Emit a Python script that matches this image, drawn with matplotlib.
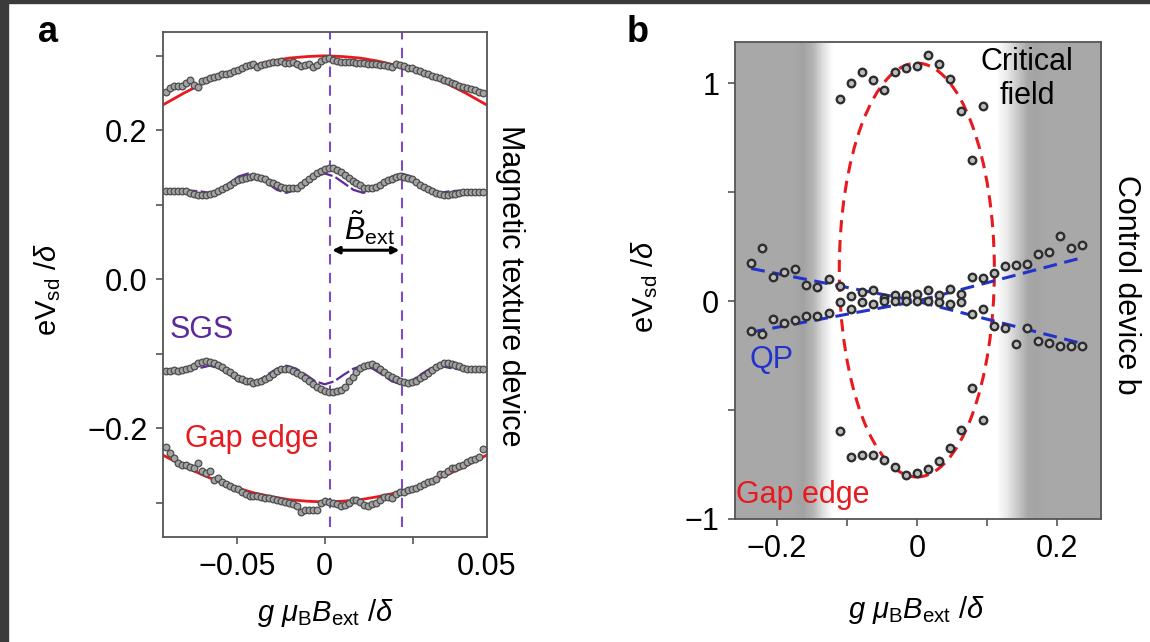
import numpy as np
import matplotlib
matplotlib.use("Agg")
import matplotlib.pyplot as plt
from matplotlib.colors import LinearSegmentedColormap
from matplotlib.patches import Ellipse, Rectangle

plt.rcParams['font.family'] = ['Liberation Sans', 'DejaVu Sans']
plt.rcParams['mathtext.fontset'] = 'custom'
plt.rcParams['mathtext.rm'] = 'Liberation Sans'
plt.rcParams['mathtext.it'] = 'Liberation Sans:italic'
plt.rcParams['mathtext.bf'] = 'Liberation Sans:bold'

# ---- panel a: magnetic texture device ----
field_a = np.linspace(-0.09, 0.09, 81)

gap_top_a = [0.251, 0.257, 0.259, 0.260, 0.260, 0.263, 0.268, 0.261, 0.258, 0.266,
             0.268, 0.270, 0.272, 0.273, 0.275, 0.276, 0.277, 0.279, 0.281, 0.283,
             0.286, 0.288, 0.289, 0.285, 0.287, 0.289, 0.290, 0.292, 0.292, 0.293,
             0.291, 0.291, 0.292, 0.289, 0.286, 0.287, 0.289, 0.285, 0.287, 0.293,
             0.296, 0.297, 0.294, 0.293, 0.292, 0.292, 0.292, 0.292, 0.291, 0.291,
             0.290, 0.289, 0.289, 0.289, 0.288, 0.288, 0.286, 0.285, 0.289, 0.287,
             0.286, 0.284, 0.283, 0.281, 0.279, 0.277, 0.275, 0.273, 0.271, 0.270,
             0.268, 0.266, 0.264, 0.262, 0.260, 0.258, 0.257, 0.255, 0.254, 0.252,
             0.250]

sgs_top_a = [0.119, 0.119, 0.119, 0.119, 0.119, 0.118, 0.116, 0.114, 0.113, 0.113,
             0.113, 0.114, 0.116, 0.118, 0.121, 0.124, 0.127, 0.130, 0.133, 0.135,
             0.136, 0.137, 0.138, 0.137, 0.136, 0.134, 0.131, 0.129, 0.126, 0.124,
             0.123, 0.122, 0.122, 0.123, 0.127, 0.130, 0.134, 0.139, 0.143, 0.146,
             0.148, 0.150, 0.149, 0.147, 0.144, 0.140, 0.136, 0.132, 0.129, 0.126,
             0.123, 0.122, 0.122, 0.124, 0.127, 0.130, 0.133, 0.135, 0.137, 0.138,
             0.137, 0.136, 0.134, 0.131, 0.127, 0.124, 0.121, 0.119, 0.116, 0.114,
             0.113, 0.113, 0.114, 0.115, 0.116, 0.117, 0.117, 0.117, 0.117, 0.117,
             0.117]

sgs_bot_a = [-0.123, -0.123, -0.122, -0.123, -0.122, -0.121, -0.119, -0.116, -0.112, -0.111,
             -0.110, -0.111, -0.113, -0.115, -0.118, -0.122, -0.125, -0.129, -0.132, -0.134,
             -0.136, -0.137, -0.139, -0.138, -0.137, -0.134, -0.131, -0.127, -0.123, -0.121,
             -0.120, -0.121, -0.123, -0.126, -0.129, -0.133, -0.136, -0.140, -0.144, -0.148,
             -0.150, -0.151, -0.151, -0.150, -0.149, -0.144, -0.137, -0.131, -0.124, -0.119,
             -0.116, -0.115, -0.114, -0.117, -0.120, -0.124, -0.128, -0.131, -0.134, -0.136,
             -0.138, -0.139, -0.138, -0.136, -0.133, -0.130, -0.126, -0.122, -0.118, -0.115,
             -0.113, -0.113, -0.114, -0.115, -0.117, -0.119, -0.121, -0.121, -0.121, -0.121,
             -0.121]

gap_bot_a = [-0.225, -0.233, -0.240, -0.247, -0.249, -0.250, -0.252, -0.253, -0.247, -0.258,
             -0.260, -0.257, -0.270, -0.267, -0.272, -0.275, -0.278, -0.280, -0.282, -0.285,
             -0.288, -0.291, -0.291, -0.291, -0.293, -0.294, -0.294, -0.295, -0.297, -0.298,
             -0.299, -0.301, -0.302, -0.305, -0.313, -0.310, -0.310, -0.310, -0.310, -0.300,
             -0.298, -0.299, -0.300, -0.302, -0.305, -0.303, -0.300, -0.297, -0.297, -0.299,
             -0.303, -0.304, -0.302, -0.300, -0.296, -0.292, -0.293, -0.294, -0.288, -0.286,
             -0.285, -0.283, -0.282, -0.280, -0.278, -0.275, -0.272, -0.271, -0.268, -0.262,
             -0.261, -0.258, -0.254, -0.253, -0.251, -0.249, -0.246, -0.243, -0.241, -0.238,
             -0.228]

# gap-edge fits
gap_fit_x = [-0.092, -0.08, -0.07, -0.06, -0.05, -0.04, -0.03, -0.02, -0.01, 0.0,
             0.01, 0.02, 0.03, 0.04, 0.05, 0.06, 0.07, 0.08, 0.092]
gap_fit_top = [0.234, 0.250, 0.262, 0.272, 0.2805, 0.2875, 0.293, 0.297, 0.299, 0.300,
               0.299, 0.297, 0.293, 0.2875, 0.2805, 0.272, 0.262, 0.250, 0.234]
gap_fit_bot = [-0.236, -0.251, -0.262, -0.272, -0.280, -0.287, -0.292, -0.296, -0.298, -0.299,
               -0.298, -0.296, -0.292, -0.287, -0.280, -0.272, -0.262, -0.251, -0.236]

# SGS fits
sgs_fit_x = [-0.092, -0.0762, -0.0707, -0.0653, -0.0598, -0.0544, -0.0490, -0.0435,
             -0.0381, -0.0326, -0.0272, -0.0218, -0.0163, -0.0109, -0.0054, 0.0,
             0.0054, 0.0109, 0.0163, 0.0218, 0.0272, 0.0326, 0.0381, 0.0435,
             0.0490, 0.0544, 0.0598, 0.0653, 0.0707, 0.0762, 0.092]
sgs_fit_top = [0.119, 0.119, 0.118, 0.116, 0.120, 0.129, 0.138, 0.142,
               0.138, 0.129, 0.120, 0.116, 0.120, 0.129, 0.138, 0.142,
               0.138, 0.129, 0.120, 0.116, 0.120, 0.129, 0.138, 0.142,
               0.138, 0.129, 0.120, 0.116, 0.118, 0.119, 0.119]
sgs_fit_bot = [-0.122, -0.121, -0.119, -0.116, -0.120, -0.128, -0.137, -0.141,
               -0.137, -0.128, -0.120, -0.116, -0.120, -0.128, -0.137, -0.141,
               -0.137, -0.128, -0.120, -0.116, -0.120, -0.128, -0.137, -0.141,
               -0.137, -0.128, -0.120, -0.116, -0.119, -0.121, -0.122]

b_period = [0.0027, 0.0439]

# ---- panel b: control device ----
field_b = np.arange(-15, 16) * 0.0158

qp_upper = [0.177, 0.242, 0.113, 0.136, 0.147, 0.076, 0.064, 0.104, 0.070, 0.022,
            0.042, 0.050, 0.015, 0.030, 0.030, 0.035, 0.050, 0.028, 0.057, 0.034,
            0.109, 0.105, 0.130, 0.160, 0.165, 0.170, 0.216, 0.224, 0.300, 0.246,
            0.257]
qp_lower = [-0.136, -0.151, -0.083, -0.098, -0.086, -0.070, -0.067, -0.052, -0.006, -0.035,
            -0.003, -0.015, 0.000, 0.000, 0.000, 0.000, 0.000, -0.005, -0.012, -0.004,
            -0.060, -0.037, -0.113, -0.121, -0.197, -0.121, -0.182, -0.190, -0.205, -0.205,
            -0.205]

# critical-field branch, k = -7 .. 6
gap_upper_b = [0.93, 1.00, 1.05, 1.015, 0.97, 1.05, 1.07, 1.08, 1.13, 1.09, 1.02, 0.875, 0.65, 0.895]
gap_lower_b = [-0.596, -0.714, -0.705, -0.706, -0.728, -0.763, -0.800, -0.790, -0.770, -0.735,
               -0.675, -0.592, -0.397, -0.547]

qp_fit_x = [-0.237, 0.0, 0.237]
qp_fit_1 = [0.15, 0.0, -0.195]
qp_fit_2 = [-0.142, 0.0, 0.20]

gap_center = (0.0, 0.143)
gap_width = 0.222
gap_height = 1.90

# shading of the background (x position, grey level)
shade_x = [-0.261, -0.180, -0.165, -0.150, -0.137, -0.122, 0.113, 0.128, 0.143, 0.158,
           0.170, 0.185, 0.263]
shade_v = [0.66, 0.66, 0.635, 0.71, 0.87, 1.0, 1.0, 0.92, 0.79, 0.66,
           0.645, 0.66, 0.66]

RED = '#e8191f'
PURPLE = '#5d2a9c'
VLINE = '#7c4cc2'
BLUE = '#2233cc'
FRAME = '#555555'
FS = 22

fig = plt.figure(figsize=(11.5, 6.42), dpi=100)
fig.patches.append(Rectangle((0, 0), 8 / 1150, 1, transform=fig.transFigure,
                             color='#3b3b3b', zorder=-5))
fig.patches.append(Rectangle((0, 1 - 3 / 642), 1, 3 / 642, transform=fig.transFigure,
                             color='#3b3b3b', zorder=-5))

dot_a = dict(ls='none', marker='o', ms=4.8, mfc='#a3a3a3', mec='#4d4d4d', mew=0.9, zorder=4)
dot_b = dict(ls='none', marker='o', ms=5.4, mfc='#bdbdbd', mec='#2e2e2e', mew=1.7, zorder=4)


def style_axes(ax):
    for s in ax.spines.values():
        s.set_color(FRAME)
        s.set_linewidth(1.3)
    ax.tick_params(which='both', direction='out', length=5, width=1.2, color=FRAME,
                   labelsize=FS, pad=6)


# ---------------- a ----------------
ax = fig.add_axes([0.1416, 0.1636, 0.2815, 0.7866])
ax.plot(gap_fit_x, gap_fit_top, color=RED, lw=2.0, zorder=2)
ax.plot(gap_fit_x, gap_fit_bot, color=RED, lw=2.0, zorder=2)
ax.plot(sgs_fit_x, sgs_fit_top, color=PURPLE, lw=1.6, ls=(0, (7, 1.5)), zorder=2)
ax.plot(sgs_fit_x, sgs_fit_bot, color=PURPLE, lw=1.6, ls=(0, (7, 1.5)), zorder=2)
ax.vlines(b_period, -0.333, 0.34, colors=VLINE, lw=1.5, linestyles=(0, (5, 4)), zorder=1)

ax.plot(field_a, gap_top_a, **dot_a)
ax.plot(field_a, sgs_top_a, **dot_a)
ax.plot(field_a, sgs_bot_a, **dot_a)
ax.plot(field_a, gap_bot_a, **dot_a)

ax.annotate('', xy=(b_period[0] + 0.0015, 0.039), xytext=(b_period[1] - 0.0015, 0.039),
            arrowprops=dict(arrowstyle='<|-|>', color='black', lw=2.2,
                            mutation_scale=10, shrinkA=0, shrinkB=0))
ax.text(0.0252, 0.069, r'$\tilde{B}_{\mathrm{ext}}$', fontsize=FS, ha='center', va='center')
ax.text(-0.088, -0.068, 'SGS', color=PURPLE, fontsize=FS, ha='left', va='center')
ax.text(-0.0794, -0.214, 'Gap edge', color=RED, fontsize=FS, ha='left', va='center')

ax.set_xlim(-0.092, 0.0919)
ax.set_ylim(-0.346, 0.332)
ax.set_xticks([-0.05, 0, 0.05])
ax.set_xticklabels(['\u22120.05', '0', ''])
ax.set_xticks([0.0919], minor=True)
ax.set_xticklabels(['0.05'], minor=True)
ax.set_yticks([-0.3, -0.2, -0.1, 0.0, 0.1, 0.2, 0.3])
ax.set_yticklabels(['', '\u22120.2', '', '0.0', '', '0.2', ''])
style_axes(ax)
ax.tick_params(axis='x', which='minor', length=0, pad=6 + 5)

# ---------------- b ----------------
bx = fig.add_axes([0.6387, 0.1916, 0.3183, 0.743])
xlo, xhi, ylo, yhi = -0.261, 0.263, -1.0, 1.19
pos = [(v - xlo) / (xhi - xlo) for v in shade_x]
shade = LinearSegmentedColormap.from_list('shade', [(p, (g, g, g)) for p, g in zip(pos, shade_v)])
bx.imshow(np.linspace(xlo, xhi, 600)[None, :], extent=[xlo, xhi, ylo, yhi], aspect='auto',
          cmap=shade, vmin=xlo, vmax=xhi, zorder=0, interpolation='bilinear')

bx.add_patch(Ellipse(gap_center, gap_width, gap_height, fill=False, edgecolor=RED,
                     lw=2.2, ls=(0, (4, 2.5)), zorder=2))
bx.plot(qp_fit_x, qp_fit_1, color=BLUE, lw=2.2, ls=(0, (4.5, 2.5)), zorder=2)
bx.plot(qp_fit_x, qp_fit_2, color=BLUE, lw=2.2, ls=(0, (4.5, 2.5)), zorder=2)

bx.plot(field_b, qp_upper, **dot_b)
bx.plot(field_b, qp_lower, **dot_b)
bx.plot(field_b[8:22], gap_upper_b, **dot_b)
bx.plot(field_b[8:22], gap_lower_b, **dot_b)

bx.text(0.158, 1.02, 'Critical\nfield', fontsize=FS, ha='center', va='center', linespacing=1.2)
bx.text(-0.24, -0.27, 'QP', color=BLUE, fontsize=FS, ha='left', va='center')
bx.text(-0.259, -0.89, 'Gap edge', color=RED, fontsize=FS, ha='left', va='center')

bx.set_xlim(xlo, xhi)
bx.set_ylim(ylo, yhi)
bx.set_xticks([-0.2, -0.1, 0, 0.1, 0.2])
bx.set_xticklabels(['\u22120.2', '', '0', '', '0.2'])
bx.set_yticks([-1, -0.5, 0, 0.5, 1])
bx.set_yticklabels(['\u22121', '', '0', '', '1'])
style_axes(bx)

# labels around the panels
ylab = r'eV$_{\mathrm{sd}}$ /$\delta$'
xlab = r'$g\ \mu_{\mathrm{B}}B_{\mathrm{ext}}\ /\delta$'
fig.text(48 / 1150, 1 - 290 / 642, ylab, rotation=90, ha='center', va='center', fontsize=21)
fig.text(645 / 1150, 1 - 287 / 642, ylab, rotation=90, ha='center', va='center', fontsize=21)
fig.text(325 / 1150, 1 - 613 / 642, xlab, ha='center', va='center', fontsize=21)
fig.text(916 / 1150, 1 - 610 / 642, xlab, ha='center', va='center', fontsize=21)
fig.text(510 / 1150, 1 - 286 / 642, 'Magnetic texture device', rotation=-90,
         ha='center', va='center', fontsize=FS)
fig.text(1126 / 1150, 1 - 285 / 642, 'Control device b', rotation=-90,
         ha='center', va='center', fontsize=FS)
fig.text(48 / 1150, 1 - 33 / 642, 'a', fontsize=26, fontweight='bold', ha='center', va='center')
fig.text(638 / 1150, 1 - 33 / 642, 'b', fontsize=26, fontweight='bold', ha='center', va='center')

fig.savefig('out.png', dpi=100)
